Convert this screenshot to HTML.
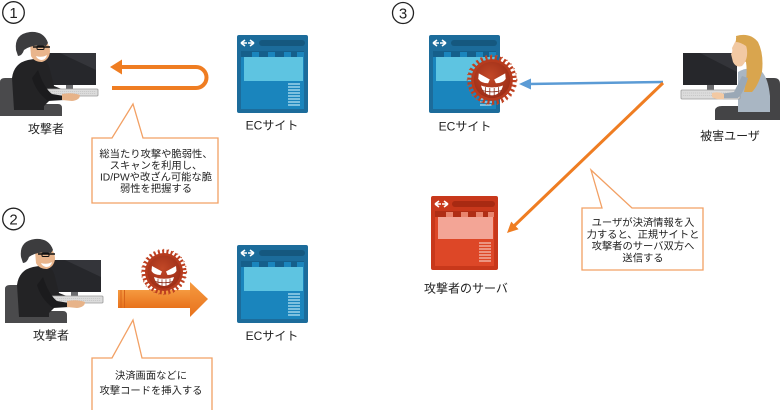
<!DOCTYPE html>
<html>
<head>
<meta charset="utf-8">
<style>
html,body{margin:0;padding:0;background:#fff;}
svg{display:block;}
text{font-family:"Liberation Sans","Noto Sans CJK JP",sans-serif;fill:#222;}
.lbl{font-size:12px;text-anchor:middle;}
.co{font-size:10.3px;text-anchor:middle;}
.num{font-size:15px;text-anchor:middle;}
</style>
</head>
<body>
<svg width="780" height="410" viewBox="0 0 780 410" xmlns="http://www.w3.org/2000/svg">
<defs>
  <linearGradient id="arrG" x1="0" y1="0" x2="0" y2="1">
    <stop offset="0" stop-color="#f59a40"/>
    <stop offset="1" stop-color="#e8721c"/>
  </linearGradient>
  <radialGradient id="virG" cx="0.45" cy="0.4" r="0.6">
    <stop offset="0" stop-color="#c24827"/>
    <stop offset="1" stop-color="#9e2e17"/>
  </radialGradient>
  <g id="virus">
    <circle r="20.5" fill="none" stroke="#bd3f20" stroke-width="4" stroke-dasharray="2 2.3"/>
    <circle r="22.5" fill="none" stroke="#c9532f" stroke-width="1.2" stroke-dasharray="1 4"/>
    <circle r="19" fill="#b63b1e"/>
    <circle r="16.5" fill="url(#virG)"/>
    <path d="M-12,-6 L-2,-0.5 L-3.5,3 Q-10,3 -12.5,-1 Z" fill="#fff"/>
    <path d="M12,-6 L2,-0.5 L3.5,3 Q10,3 12.5,-1 Z" fill="#fff"/>
    <path d="M-10,5 Q0,8.5 10,5 Q8,13.5 0,14 Q-8,13.5 -10,5 Z" fill="#fff"/>
    <path d="M-6,6.5 V13 M-2,7.3 V14 M2,7.3 V14 M6,6.5 V13 M-9,9.5 Q0,12 9,9.5" stroke="#8a2a16" stroke-width="0.7" fill="none"/>
  </g>
  <g id="browserBlue">
    <rect x="0" y="0" width="71" height="78" rx="2" fill="#1c6c9b"/>
    <path d="M4,8 L8,5 M4,8 L8,11 M4,8 H10 M17,8 L13,5 M17,8 L13,11 M11,8 H17" stroke="#fff" stroke-width="1.6" fill="none"/>
    <rect x="22" y="5" width="46" height="6" rx="3" fill="#15587f"/>
    <rect x="4" y="16" width="63" height="58" fill="#1a85bd"/>
    <rect x="4" y="16" width="63" height="6" fill="#155f8b"/>
    <rect x="15" y="17" width="7" height="5" fill="#1a85bd"/>
    <rect x="31" y="17" width="7" height="5" fill="#1a85bd"/>
    <rect x="47" y="17" width="7" height="5" fill="#1a85bd"/>
    <rect x="60" y="17" width="7" height="5" fill="#1a85bd"/>
    <rect x="7" y="22" width="59" height="24" fill="#5ec4e1"/>
    <g stroke="#b8e4f4" stroke-width="1.2">
      <path d="M51,49 H63 M51,52 H63 M51,55 H63 M51,58 H63 M51,61 H63 M51,64 H63 M51,67 H63 M51,70 H63"/>
    </g>
  </g>
  <g id="browserRed">
    <rect x="0" y="0" width="67" height="74" rx="2" fill="#c8381b"/>
    <path d="M4,8 L8,5 M4,8 L8,11 M4,8 H10 M17,8 L13,5 M17,8 L13,11 M11,8 H17" stroke="#fff" stroke-width="1.6" fill="none"/>
    <rect x="21" y="5" width="43" height="6" rx="3" fill="#a82a12"/>
    <rect x="4" y="15" width="59" height="55" fill="#dd4727"/>
    <rect x="4" y="15" width="59" height="6" fill="#b02e15"/>
    <rect x="15" y="16" width="7" height="5" fill="#e8856e"/>
    <rect x="30" y="16" width="7" height="5" fill="#e8856e"/>
    <rect x="45" y="16" width="7" height="5" fill="#e8856e"/>
    <rect x="57" y="16" width="6" height="5" fill="#e8856e"/>
    <rect x="7" y="21" width="55" height="22" fill="#f3a596"/>
    <g stroke="#f6c2b6" stroke-width="1.2">
      <path d="M48,47 H60 M48,50 H60 M48,53 H60 M48,56 H60 M48,59 H60 M48,62 H60 M48,65 H60"/>
    </g>
  </g>
  <g id="attacker">
    <!-- monitor (behind person) -->
    <rect x="45" y="53" width="51" height="32" fill="#26272b"/>
    <path d="M60,53 L96,53 L96,70 Z" fill="#34353a"/>
    <rect x="66" y="85" width="7" height="4" fill="#6a6b6e"/>
    <!-- chair -->
    <path d="M0,82 Q0,78 5,78 L12,78 Q15,78 15,84 L15,104 L58,104 Q62,104 62,108 L62,116 L0,116 Z" fill="#4a4a4c"/>
    <!-- body -->
    <path d="M12,78 Q14,63 28,60 L40,58 Q48,60 50,70 L54,86 L64,90 L64,99 L50,100 L44,106 L44,110 L14,110 Z" fill="#232325"/>
    <!-- head -->
    <path d="M30,44 Q34,38 44,40 Q50,44 50,52 Q49,60 42,62 Q34,62 31,56 Z" fill="#e9b58c"/>
    <path d="M36,56 Q42,58 47,55 Q46,60 41,60 Q37,59 36,56 Z" fill="#fff"/>
    <!-- hat -->
    <path d="M16,50 Q14,34 30,32 Q44,31 48,43 L46,46 Q32,44 24,50 Q22,56 18,56 Z" fill="#3c3c3e"/>
    <!-- glasses -->
    <path d="M33,47 H50" stroke="#111" stroke-width="1.5"/>
    <rect x="37" y="46" width="7" height="3.5" rx="1" fill="none" stroke="#111" stroke-width="1"/>
    <!-- keyboard -->
    <rect x="44" y="89" width="54" height="7" rx="1" fill="#dcdcdc" stroke="#9a9a9a" stroke-width="0.8"/>
    <path d="M46,91.5 H96 M46,93.5 H96" stroke="#b5b5b5" stroke-width="0.6" stroke-dasharray="1.2 0.8"/>
    <!-- arm -->
    <path d="M38,70 Q44,88 52,94 L64,96 L64,100 L48,101 Q36,92 32,78 Z" fill="#1b1b1d"/>
    <path d="M62,94 Q72,92 80,95 Q80,100 72,101 L62,100 Z" fill="#e7b389"/>
  </g>
</defs>

<!-- ===== Panel 1 ===== -->
<circle cx="13.5" cy="12.5" r="10.8" fill="none" stroke="#222" stroke-width="1.3"/>
<text class="num" x="13.5" y="18">1</text>

<use href="#attacker" x="0" y="0"/>
<text class="lbl" x="46" y="133">攻撃者</text>

<path d="M112,88 L196,88 A10.5,10.5 0 0 0 196,67 L120,67" fill="none" stroke="#ef7d22" stroke-width="4"/>
<path d="M110,67 L122,59.5 L122,74.5 Z" fill="#ef7d22"/>

<use href="#browserBlue" x="237" y="35"/>
<text class="lbl" x="272" y="129.5">ECサイト</text>

<path d="M92,138 L112,138 L133,104 L143,138 L218,138 L218,203 L92,203 Z" fill="#fff" stroke="#f2a064" stroke-width="1.3"/>
<text class="co" x="156" y="157.5">総当たり攻撃や脆弱性、</text>
<text class="co" x="156" y="169">スキャンを利用し、</text>
<text class="co" x="156" y="180.5">ID/PWや改ざん可能な脆</text>
<text class="co" x="156" y="192">弱性を把握する</text>

<!-- ===== Panel 2 ===== -->
<circle cx="13.5" cy="219" r="10.8" fill="none" stroke="#222" stroke-width="1.3"/>
<text class="num" x="13.5" y="224.5">2</text>

<use href="#attacker" x="5" y="207"/>
<text class="lbl" x="51" y="339.5">攻撃者</text>

<rect x="118" y="290" width="73" height="18" fill="url(#arrG)"/>
<path d="M190,282 L208,299 L190,317 Z" fill="url(#arrG)"/>
<path d="M121,290 V308 M124.5,290 V308" stroke="#d8641a" stroke-width="1"/>
<use href="#virus" x="164" y="272"/>

<use href="#browserBlue" x="237" y="245"/>
<text class="lbl" x="272" y="340">ECサイト</text>

<path d="M92,358 L112,358 L133,320 L142,358 L212,358 L212,412 L92,412 Z" fill="#fff" stroke="#f2a064" stroke-width="1.3"/>
<text class="co" x="151" y="379">決済画面などに</text>
<text class="co" x="151" y="394">攻撃コードを挿入する</text>

<!-- ===== Panel 3 ===== -->
<circle cx="403" cy="13" r="10.5" fill="none" stroke="#222" stroke-width="1.3"/>
<text class="num" x="403" y="18.5">3</text>

<use href="#browserBlue" x="429" y="35"/>
<g transform="translate(492,80) scale(1.1)"><use href="#virus"/></g>
<text class="lbl" x="465" y="130.5">ECサイト</text>

<!-- arrows -->
<path d="M663,82 L528,84" stroke="#5b9bd5" stroke-width="2.5" fill="none"/>
<path d="M519,84 L531,78.5 L531,89.5 Z" fill="#5b9bd5"/>
<path d="M663,83 L514,226" stroke="#ef7d22" stroke-width="3" fill="none"/>
<path d="M507,233 L518.6,229.2 L511.2,221.6 Z" fill="#ef7d22"/>

<!-- victim -->
<g>
  <rect x="683" y="53" width="54" height="32" fill="#26272b"/>
  <path d="M700,53 L737,53 L737,72 Z" fill="#333439"/>
  <rect x="707" y="85" width="7" height="5" fill="#6a6b6e"/>
  <path d="M756,84 Q756,78 762,78 L774,78 Q780,78 780,84 L780,120 L715,120 L715,110 Q716,106 722,106 L756,106 Z" fill="#444446"/>
  <path d="M738,72 Q748,66 760,70 Q768,76 770,96 L770,112 L738,112 Z" fill="#a9b6c3"/>
  <path d="M736,36 Q750,32 758,42 Q764,54 762,72 Q758,86 752,92 L744,92 Q748,74 746,62 L738,58 Z" fill="#d9a54e"/>
  <path d="M736,40 Q746,40 747,50 Q748,60 742,66 Q736,68 733,62 L731,54 Q733,52 732,48 Z" fill="#f2c9a3"/>
  <path d="M736,38 Q746,34 752,44 L746,46 Q740,42 736,42 Z" fill="#d9a54e"/>
  <rect x="681" y="90" width="59" height="9" rx="1" fill="#dcdcdc" stroke="#9a9a9a" stroke-width="0.8"/>
  <path d="M683,93 H738 M683,95.5 H738" stroke="#b5b5b5" stroke-width="0.6" stroke-dasharray="1.2 0.8"/>
  <path d="M748,78 Q744,92 738,98 L720,98 L720,94 L734,92 Q738,84 742,76 Z" fill="#9aa8b6"/>
  <path d="M712,93 Q718,91 724,94 L724,99 Q716,100 712,97 Z" fill="#f2c9a3"/>
</g>
<text class="lbl" x="730" y="140">被害ユーザ</text>

<use href="#browserRed" x="431" y="196"/>
<text class="lbl" x="466" y="292.5">攻撃者のサーバ</text>

<path d="M582,208 L602,208 L591,170 L632,208 L703,208 L703,270 L582,270 Z" fill="#fff" stroke="#f2a064" stroke-width="1.3"/>
<text class="co" x="643" y="226">ユーザが決済情報を入</text>
<text class="co" x="643" y="238">力すると、正規サイトと</text>
<text class="co" x="643" y="249.5">攻撃者のサーバ双方へ</text>
<text class="co" x="643" y="261.5">送信する</text>
</svg>
</body>
</html>
